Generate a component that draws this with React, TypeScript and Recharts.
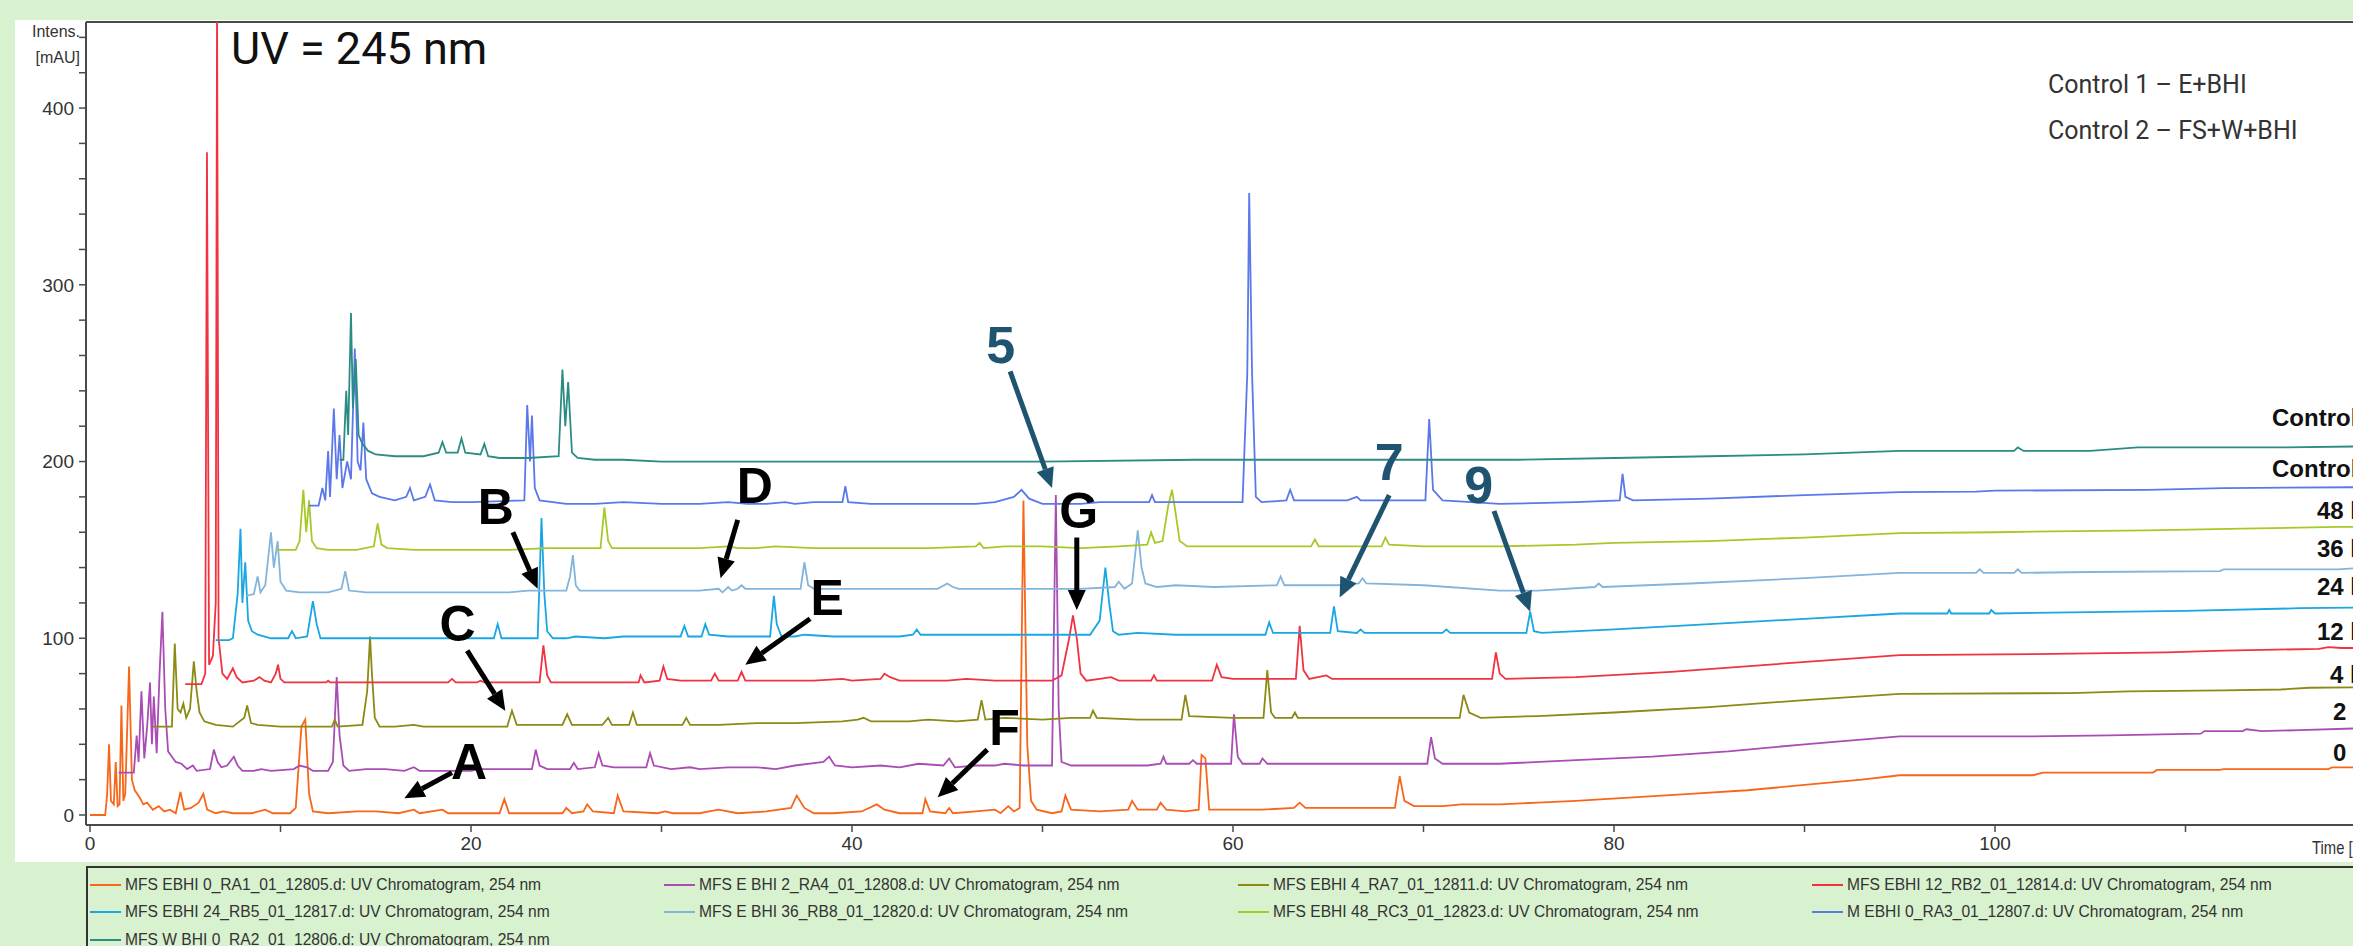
import { LineChart, Line, XAxis, YAxis, ReferenceLine, ReferenceDot } from "recharts";

type Pt = [number, number];

// retention time (min) vs intensity (mAU)
const trace0h: Pt[] = [
  [0, 0], [0.8, 0], [0.9, 12], [1.0, 40], [1.1, 8], [1.25, 6], [1.35, 30], [1.45, 5], [1.55, 6], [1.65, 62],
  [1.75, 8], [1.85, 12], [2.05, 84], [2.2, 20], [2.35, 14], [2.6, 10], [2.8, 6], [3.0, 7], [3.3, 3], [3.6, 5],
  [3.9, 2], [4.2, 3], [4.5, 1], [4.75, 13], [4.95, 3], [5.3, 4], [5.7, 7], [5.95, 12], [6.15, 3], [6.6, 1],
  [7.0, 2], [7.5, 1], [8.5, 1], [9.2, 3], [9.6, 1], [10.5, 1], [10.8, 4], [11.1, 50], [11.3, 54], [11.5, 12],
  [11.7, 2], [12.5, 1], [14.0, 2], [15.0, 2], [16.2, 1], [17.0, 3], [17.3, 1], [18.5, 3], [18.8, 1], [21.5, 1],
  [21.75, 9], [22.0, 1], [24.8, 1], [25.0, 4], [25.3, 1], [25.9, 2], [26.1, 6], [26.4, 2], [27.5, 1], [27.7, 11],
  [28.0, 2], [29.8, 1], [30.2, 2], [30.6, 1], [32.0, 1], [32.5, 2], [33.0, 3], [34.0, 1], [35.5, 2], [36.8, 4],
  [37.1, 11], [37.5, 4], [38.0, 1], [39.0, 1], [40.5, 2], [41.3, 6], [41.7, 3], [42.5, 1], [43.7, 1], [43.85, 9],
  [44.1, 2], [44.9, 1], [45.1, 4], [45.3, 1], [46.5, 2], [47.5, 3], [47.8, 1], [48.2, 5], [48.5, 2], [48.8, 4],
  [49.0, 178], [49.2, 40], [49.4, 8], [49.7, 3], [50.5, 1], [51.0, 2], [51.2, 11], [51.5, 3], [53.0, 2], [54.5, 3],
  [54.7, 8], [55.0, 3], [56.0, 3], [56.2, 7], [56.5, 3], [57.5, 2], [58.2, 3], [58.35, 34], [58.55, 32], [58.75, 3],
  [60.0, 3], [61.5, 3], [63.2, 4], [63.5, 7], [63.8, 4], [65.0, 4], [68.5, 4], [68.75, 22], [69.0, 8], [69.5, 5],
  [71.0, 5], [72.0, 6], [74.0, 6], [76.0, 7], [78.0, 8], [81.0, 10], [84.0, 12], [87.0, 14], [90.0, 17], [93.0, 20],
  [95.0, 22.5], [102.0, 22.5], [102.5, 24], [108.3, 24], [108.5, 25.5], [111.8, 25.5], [112.0, 26], [117.5, 26],
  [117.7, 27], [121, 27],
];

const trace2h: Pt[] = [
  [1.5, 24], [2.3, 24], [2.45, 45], [2.55, 30], [2.7, 70], [2.85, 32], [3.0, 50], [3.15, 75], [3.25, 40], [3.35, 67],
  [3.5, 35], [3.65, 80], [3.8, 115], [3.95, 60], [4.1, 36], [4.3, 33], [4.5, 30], [4.8, 29], [5.1, 26], [5.4, 28],
  [5.6, 25], [6.3, 26], [6.5, 37], [6.7, 30], [6.9, 27], [7.2, 28], [7.55, 33], [7.75, 28], [8.0, 25], [8.6, 25],
  [9.0, 26], [9.5, 25], [10.7, 26], [11.0, 28], [11.4, 27], [11.7, 25], [12.5, 25], [12.75, 30], [12.95, 78],
  [13.1, 45], [13.3, 28], [13.6, 25], [14.5, 26], [15.5, 26], [16.5, 25], [17.0, 27], [17.3, 25], [20.0, 25],
  [20.5, 26], [23.2, 26], [23.4, 37], [23.6, 28], [24.0, 26], [25.2, 26], [25.4, 29.5], [25.6, 26], [26.5, 27],
  [26.7, 35], [26.9, 28], [27.5, 27], [29.2, 27], [29.4, 35], [29.6, 28], [30.5, 26], [31.5, 27], [32.0, 26],
  [33.5, 27], [35.0, 27], [36.0, 26], [37.0, 28], [38.5, 30], [38.8, 33], [39.1, 28], [40.0, 27], [41.5, 28],
  [42.5, 27], [43.5, 29], [44.8, 28], [45.1, 32], [45.4, 27], [46.5, 28], [47.5, 28], [48.0, 29], [49.0, 28],
  [50.5, 28], [50.7, 181], [50.85, 60], [51.0, 30], [51.5, 28], [53.0, 28], [54.5, 28], [55.5, 28], [56.2, 29],
  [56.35, 33], [56.5, 29], [57.7, 29], [57.9, 31], [58.1, 29], [59.9, 29], [60.05, 57], [60.25, 33], [60.5, 29],
  [61.4, 29], [61.55, 32], [61.8, 29], [64.0, 29], [65.5, 29], [67.0, 29], [68.5, 29], [70.2, 29], [70.4, 44],
  [70.6, 32], [71.0, 29], [74.0, 29], [78.0, 31], [82.0, 33], [86.0, 36], [90.0, 40], [95.0, 44.5], [102.0, 44.5],
  [106.0, 45], [110.8, 46], [111.0, 47.5], [113.0, 47.5], [113.2, 48.5], [114.0, 47.5], [116.0, 48], [119.0, 49], [121, 49],
];

const trace4h: Pt[] = [
  [3.3, 50], [4.3, 50], [4.45, 97], [4.6, 60], [4.75, 58], [4.9, 63], [5.05, 55], [5.25, 60], [5.45, 87], [5.6, 70],
  [5.75, 58], [6.0, 53], [6.3, 52], [6.6, 51], [7.5, 50], [8.1, 55], [8.25, 62], [8.45, 52], [8.8, 51], [10.0, 50],
  [11.3, 50], [12.7, 50], [12.85, 54], [13.0, 50], [14.3, 51], [14.55, 70], [14.7, 101], [14.8, 80], [14.95, 55],
  [15.2, 50], [16.0, 50], [17.0, 51], [17.5, 50], [19.5, 50], [20.0, 50], [21.9, 50], [22.15, 59], [22.4, 51],
  [24.8, 51], [25.05, 57], [25.3, 51], [26.9, 51], [27.2, 55], [27.4, 51], [28.3, 51], [28.5, 58], [28.7, 51],
  [31.1, 51], [31.3, 55], [31.5, 51], [33.0, 51], [35.0, 52], [37.0, 52], [39.5, 53], [40.3, 54], [40.6, 55],
  [41.0, 53], [43.0, 53], [44.0, 54], [45.5, 53], [46.6, 54], [46.8, 65], [47.0, 54], [48.0, 55], [50.0, 54],
  [51.5, 55], [52.5, 55], [52.65, 59], [52.85, 55], [55.0, 54], [57.3, 54], [57.5, 68], [57.7, 56], [60.0, 55],
  [61.6, 55], [61.8, 82], [62.0, 58], [62.2, 55], [63.1, 55], [63.25, 58], [63.4, 55], [66.0, 55], [70.0, 55],
  [71.9, 55], [72.1, 68], [72.4, 58], [73.0, 55], [76.0, 56], [80.0, 58], [85.0, 61], [90.0, 65], [95.0, 68.5],
  [104.0, 69], [107.0, 70], [112.0, 70.5], [115.0, 71], [116.5, 72], [121, 72.5],
];

const trace12h: Pt[] = [
  [5.0, 74], [5.85, 74], [6.05, 80], [6.14, 375], [6.25, 85], [6.45, 90], [6.6, 120], [6.67, 460], [6.75, 100],
  [6.95, 80], [7.2, 77], [7.5, 83], [7.7, 78], [8.0, 75], [8.6, 76], [8.9, 78], [9.15, 76], [9.5, 75], [9.75, 80],
  [9.87, 85], [10.0, 77], [10.2, 75], [11.5, 75], [12.4, 75], [12.5, 76], [12.6, 75], [18.8, 75], [19.0, 77],
  [19.2, 75], [20.3, 75], [20.5, 76], [20.7, 75], [23.6, 75], [23.8, 96], [24.0, 79], [24.2, 75], [28.8, 75],
  [28.9, 79], [29.1, 75], [29.9, 76], [30.1, 84], [30.3, 77], [31.0, 76], [32.6, 76], [32.8, 80], [33.0, 76],
  [34.0, 76], [34.2, 81], [34.4, 76], [36.0, 76], [38.0, 76], [39.5, 77], [40.0, 76], [41.5, 77], [41.7, 80],
  [42.0, 78], [42.5, 76], [45.0, 76], [46.0, 77], [47.5, 76], [50.5, 76], [51.0, 79], [51.4, 100], [51.6, 113],
  [51.8, 100], [52.0, 80], [52.3, 76], [53.0, 77], [53.6, 78], [54.0, 76], [55.7, 76], [55.85, 79], [56.0, 76],
  [58.9, 76], [59.15, 85], [59.4, 78], [60.0, 77], [61.0, 77], [63.3, 77], [63.5, 107], [63.7, 82], [64.0, 77],
  [64.9, 79], [65.2, 77], [67.0, 77], [70.0, 77], [73.6, 77], [73.8, 92], [74.0, 80], [74.3, 77], [78.0, 78],
  [83.0, 81], [88.0, 85], [95.0, 90.5], [102.0, 91], [109.0, 92], [112.0, 93], [117.0, 94], [117.5, 95],
  [118.2, 94.5], [121, 94.5],
];

const trace24h: Pt[] = [
  [6.6, 99], [7.3, 99], [7.5, 100], [7.75, 125], [7.9, 162], [8.0, 120], [8.15, 143], [8.3, 110], [8.5, 104],
  [8.8, 102], [9.5, 100], [10.4, 100], [10.6, 104], [10.8, 100], [11.4, 101], [11.7, 121], [11.9, 108], [12.1, 100],
  [13.0, 100], [17.0, 100], [19.0, 100], [21.2, 100], [21.4, 108], [21.6, 100], [23.5, 100], [23.7, 168],
  [23.85, 125], [24.0, 104], [24.3, 100], [25.0, 100], [25.5, 101], [27.0, 100], [28.0, 101], [29.5, 101],
  [31.0, 101], [31.2, 107], [31.4, 101], [32.1, 101], [32.3, 108], [32.5, 102], [33.5, 101], [35.7, 101],
  [35.9, 124], [36.05, 108], [36.3, 101], [37.0, 101], [37.5, 102], [39.0, 101], [40.0, 101], [41.5, 101],
  [42.5, 101], [43.2, 102], [43.4, 105], [43.6, 102], [45.0, 102], [48.0, 102], [50.0, 102], [52.5, 102],
  [53.0, 110], [53.3, 140], [53.5, 120], [53.7, 104], [54.0, 102], [55.0, 103], [57.0, 102], [58.5, 102],
  [61.7, 102], [61.9, 109], [62.1, 103], [63.0, 103], [65.1, 103], [65.3, 118], [65.5, 104], [66.5, 103],
  [66.7, 105], [66.9, 103], [69.0, 103], [71.0, 103], [71.2, 105], [71.4, 103], [73.0, 103], [75.4, 103],
  [75.6, 115], [75.8, 104], [76.2, 103], [80.0, 105], [85.0, 108], [90.0, 111], [95.0, 114], [97.5, 114],
  [97.6, 116], [97.7, 114], [99.7, 114], [99.8, 116], [100.0, 114], [103.0, 114.5], [110.0, 115.5], [116.0, 117],
  [121, 117.7],
];

const trace36h: Pt[] = [
  [8.2, 124], [8.6, 125], [8.8, 135], [8.95, 126], [9.2, 130], [9.5, 160], [9.65, 140], [9.85, 155], [10.0, 132],
  [10.3, 127], [11.0, 126], [12.5, 126], [13.2, 128], [13.4, 138], [13.6, 127], [14.5, 126], [18.0, 126],
  [22.0, 126], [23.0, 127], [25.0, 127], [25.2, 135], [25.35, 147], [25.5, 130], [25.7, 127], [27.5, 127],
  [30.0, 127], [32.0, 127], [33.0, 128], [33.2, 126], [33.5, 129], [33.7, 127], [34.0, 128], [34.2, 130],
  [34.4, 128], [36.0, 128], [37.3, 128], [37.5, 143], [37.7, 130], [38.0, 128], [40.0, 128], [42.0, 128],
  [44.5, 128], [45.0, 131], [45.3, 129], [45.6, 128], [48.0, 128], [50.0, 128], [52.0, 128], [53.8, 129],
  [54.0, 132], [54.3, 128], [54.7, 131], [55.0, 161], [55.2, 140], [55.4, 131], [56.0, 129], [57.0, 130],
  [59.0, 129], [62.3, 130], [62.5, 135], [62.7, 130], [64.0, 130], [65.5, 130], [66.6, 131], [66.8, 134],
  [67.0, 131], [70.0, 130], [74.0, 127], [76.0, 127], [79.0, 129], [79.2, 131], [79.4, 129], [84.0, 131],
  [90.0, 134], [95.0, 137], [99.0, 137], [99.2, 139], [99.4, 137], [101.0, 137], [101.2, 139], [101.4, 137],
  [105.0, 137.5], [111.8, 138], [112.0, 139], [118.0, 139], [119.0, 139.7], [121, 139.7],
];

const trace48h: Pt[] = [
  [9.8, 150], [10.8, 150], [11.0, 155], [11.2, 184], [11.35, 160], [11.5, 178], [11.65, 155], [11.9, 151],
  [12.5, 150], [14.0, 150], [14.9, 152], [15.1, 165], [15.3, 153], [15.6, 151], [17.0, 150], [20.0, 150],
  [22.0, 150], [24.0, 151], [25.0, 151], [26.8, 151], [27.0, 174], [27.2, 155], [27.4, 151], [29.0, 151],
  [30.5, 151], [32.0, 151], [33.5, 152], [34.0, 151], [35.0, 151], [36.0, 152], [38.0, 151], [40.0, 151],
  [42.0, 151], [44.0, 151], [46.5, 152], [46.7, 154], [46.9, 151], [48.0, 152], [50.0, 152], [52.0, 151],
  [54.0, 152], [55.5, 153], [55.7, 160], [55.9, 154], [56.3, 155], [56.6, 175], [56.8, 184], [57.0, 170],
  [57.2, 155], [57.6, 152], [58.5, 152], [60.0, 152], [62.0, 152], [64.1, 152], [64.3, 156], [64.5, 152],
  [67.8, 152], [68.0, 157], [68.2, 153], [70.0, 152], [72.0, 152], [74.0, 152], [78.0, 153], [80.0, 154],
  [85.0, 155], [90.0, 157], [95.0, 159.5], [100.0, 160], [103.0, 160.5], [108.0, 161], [113.0, 162],
  [118.0, 163], [121, 163],
];

const traceCtrl1: Pt[] = [
  [11.5, 175], [12.0, 175], [12.2, 185], [12.35, 178], [12.5, 206], [12.6, 180], [12.8, 230], [12.95, 190],
  [13.1, 215], [13.25, 185], [13.5, 200], [13.7, 190], [13.9, 264], [14.05, 200], [14.2, 195], [14.35, 222],
  [14.5, 190], [14.8, 182], [15.2, 180], [16.0, 178], [16.6, 180], [16.8, 185], [17.0, 178], [17.6, 180],
  [17.85, 187], [18.1, 178], [19.0, 177], [20.0, 177], [22.8, 178], [22.95, 232], [23.1, 200], [23.2, 226],
  [23.35, 185], [23.6, 178], [25.0, 176], [26.5, 176], [28.0, 177], [30.0, 176], [32.0, 176], [33.5, 177],
  [34.5, 176], [35.5, 176], [36.5, 177], [37.0, 176], [38.0, 177], [39.5, 177], [39.65, 186], [39.8, 177],
  [41.0, 176], [42.5, 176], [45.0, 176], [46.5, 176], [47.5, 177], [48.5, 180], [48.9, 184], [49.3, 179],
  [50.0, 176], [52.0, 176], [53.0, 177], [55.6, 177], [55.75, 181], [55.9, 177], [58.0, 177], [60.5, 177],
  [60.75, 250], [60.85, 352], [61.0, 250], [61.2, 180], [61.5, 177], [62.8, 178], [63.0, 184], [63.2, 178],
  [66.0, 178], [66.5, 180], [66.7, 178], [70.1, 178], [70.3, 224], [70.5, 184], [71.0, 178], [74.0, 176],
  [78.0, 177], [80.3, 178], [80.45, 193], [80.6, 180], [81.0, 178], [85.0, 179], [90.0, 181], [95.0, 182.7],
  [99.0, 183], [100.0, 183.5], [108.0, 184], [112.0, 185], [121, 185.6],
];

const traceCtrl2: Pt[] = [
  [13.1, 201], [13.3, 201], [13.45, 240], [13.55, 215], [13.7, 284], [13.8, 230], [13.95, 258], [14.1, 215],
  [14.3, 210], [14.6, 206], [15.0, 204], [16.0, 203], [17.5, 203], [18.3, 205], [18.5, 211], [18.7, 205],
  [19.3, 205], [19.5, 213], [19.7, 205], [20.5, 204], [20.7, 210], [20.9, 203], [21.5, 202], [23.0, 202],
  [24.6, 203], [24.8, 252], [24.95, 220], [25.1, 245], [25.3, 205], [25.6, 202], [26.5, 201], [28.0, 201],
  [30.0, 200], [40.0, 200], [50.0, 200], [58.0, 201], [65.0, 201], [75.0, 201], [80.0, 202], [85.0, 203],
  [90.0, 204], [95.0, 206], [101.0, 206], [101.2, 208], [101.5, 206], [105.0, 206], [107.5, 208], [115.0, 208],
  [121, 208.8],
];

const series = [
  { name: "MFS EBHI 0_RA1_01_12805.d: UV Chromatogram, 254 nm", tag: "0 h", color: "#f8661a", points: trace0h },
  { name: "MFS E BHI 2_RA4_01_12808.d: UV Chromatogram, 254 nm", tag: "2 h", color: "#a94db5", points: trace2h },
  { name: "MFS EBHI 4_RA7_01_12811.d: UV Chromatogram, 254 nm", tag: "4 h", color: "#8b8a15", points: trace4h },
  { name: "MFS EBHI 12_RB2_01_12814.d: UV Chromatogram, 254 nm", tag: "12 h", color: "#ef3340", points: trace12h },
  { name: "MFS EBHI 24_RB5_01_12817.d: UV Chromatogram, 254 nm", tag: "24 h", color: "#19a6e3", points: trace24h },
  { name: "MFS E BHI 36_RB8_01_12820.d: UV Chromatogram, 254 nm", tag: "36 h", color: "#82b4dc", points: trace36h },
  { name: "MFS EBHI 48_RC3_01_12823.d: UV Chromatogram, 254 nm", tag: "48 h", color: "#a7c928", points: trace48h },
  { name: "M EBHI 0_RA3_01_12807.d: UV Chromatogram, 254 nm", tag: "Control 1", color: "#5a78ea", points: traceCtrl1 },
  { name: "MFS W BHI 0_RA2_01_12806.d: UV Chromatogram, 254 nm", tag: "Control 2", color: "#2b8c83", points: traceCtrl2 },
];

// label, text centre, arrow tail, arrow tip (time, mAU)
const annotations: { label: string; at: Pt; from: Pt; to: Pt }[] = [
  { label: "A", at: [19.9, 30], from: [19.0, 24], to: [16.5, 9.5] },
  { label: "B", at: [21.3, 174], from: [22.2, 160], to: [23.5, 128] },
  { label: "C", at: [19.3, 108], from: [19.8, 93], to: [21.8, 59] },
  { label: "D", at: [34.9, 186], from: [34.0, 167], to: [33.1, 134] },
  { label: "E", at: [38.7, 123], from: [37.8, 111], to: [34.4, 85] },
  { label: "F", at: [48.0, 49], from: [47.1, 37], to: [44.5, 10] },
  { label: "G", at: [51.9, 172], from: [51.8, 157], to: [51.8, 116] },
  { label: "5", at: [47.8, 266], from: [48.3, 251], to: [50.5, 185] },
  { label: "7", at: [68.2, 200], from: [68.2, 181], to: [65.6, 123] },
  { label: "9", at: [72.9, 187], from: [73.7, 172], to: [75.6, 115] },
];

const xTicks = [0, 10, 20, 30, 40, 50, 60, 70, 80, 90, 100, 110];
const yTicks = [0, 20, 40, 60, 80, 100, 120, 140, 160, 180, 200, 220, 240, 260, 280, 300, 320, 340, 360, 380, 400, 420, 440];

const X_DOMAIN: [number, number] = [-0.21, 120];
const Y_DOMAIN: [number, number] = [-5.66, 448.7];
const tagTops = [739, 698, 661, 618, 573, 535, 497, 455, 404];
const tagLefts = [2333, 2333, 2330, 2317, 2317, 2317, 2317, 2272, 2272];

const narrow = "'Liberation Sans Narrow', 'Arial Narrow', 'Liberation Sans', Arial, sans-serif";
const bold = "'Liberation Sans', Arial, sans-serif";

function Arrow(props: any) {
  const { x1, y1, x2, y2, color } = props;
  const dx = x2 - x1;
  const dy = y2 - y1;
  const len = Math.sqrt(dx * dx + dy * dy) || 1;
  const ux = dx / len;
  const uy = dy / len;
  const head = 20;
  const half = 9;
  const bx = x2 - ux * head;
  const by = y2 - uy * head;
  return (
    <g>
      <line x1={x1} y1={y1} x2={bx} y2={by} stroke={color} strokeWidth={5} />
      <polygon
        points={`${x2},${y2} ${bx - uy * half},${by + ux * half} ${bx + uy * half},${by - ux * half}`}
        fill={color}
      />
    </g>
  );
}

export default function App() {
  return (
    <div
      style={{
        position: "fixed",
        left: 0,
        top: 0,
        width: 2353,
        height: 946,
        overflow: "hidden",
        background: "#d8f1cf",
      }}
    >
      <div style={{ position: "absolute", left: 15, top: 20, width: 2400, height: 842, background: "#fff" }} />
      <div style={{ position: "absolute", left: 0, top: 0 }}>
        <LineChart width={2376} height={870} margin={{ top: 22, right: 0, bottom: 5, left: 16 }}>
          <XAxis
            type="number"
            dataKey="t"
            domain={X_DOMAIN}
            allowDataOverflow
            ticks={xTicks}
            tickFormatter={(v: number) => (v % 20 === 0 ? String(v) : "")}
            height={40}
            tickSize={7}
            tickMargin={5}
            axisLine={{ stroke: "#4a4a4a", strokeWidth: 2 }}
            tickLine={{ stroke: "#4a4a4a", strokeWidth: 1.5 }}
            tick={{ fill: "#333", fontSize: 19, fontFamily: narrow }}
          />
          <YAxis
            type="number"
            domain={Y_DOMAIN}
            allowDataOverflow
            ticks={yTicks}
            tickFormatter={(v: number) => (v % 100 === 0 ? String(v) : "")}
            width={70}
            tickSize={7}
            tickMargin={5}
            axisLine={{ stroke: "#4a4a4a", strokeWidth: 2 }}
            tickLine={{ stroke: "#4a4a4a", strokeWidth: 1.5 }}
            tick={{ fill: "#333", fontSize: 19, fontFamily: narrow }}
          />
          <ReferenceLine y={Y_DOMAIN[1]} stroke="#4a4a4a" strokeWidth={2} />
          {series.map((s) => (
            <Line
              key={s.name}
              data={s.points.map(([t, v]) => ({ t, v }))}
              dataKey="v"
              type="linear"
              stroke={s.color}
              strokeWidth={1.8}
              dot={false}
              activeDot={false}
              isAnimationActive={false}
            />
          ))}
          {annotations.map((a) => {
            const color = /\d/.test(a.label) ? "#1f5470" : "#000";
            return (
              <ReferenceLine
                key={"arr" + a.label}
                segment={[
                  { x: a.from[0], y: a.from[1] },
                  { x: a.to[0], y: a.to[1] },
                ]}
                ifOverflow="visible"
                shape={(p: any) => <Arrow {...p} color={color} />}
              />
            );
          })}
          {annotations.map((a) => {
            const isNum = /\d/.test(a.label);
            return (
              <ReferenceDot
                key={"lbl" + a.label}
                x={a.at[0]}
                y={a.at[1]}
                r={0}
                ifOverflow="visible"
                shape={(p: any) => (
                  <text
                    x={p.cx}
                    y={p.cy}
                    textAnchor="middle"
                    dominantBaseline="central"
                    fill={isNum ? "#1f5470" : "#000"}
                    fontSize={isNum ? 52 : 50}
                    fontWeight={900}
                    fontFamily={bold}
                  >
                    {a.label}
                  </text>
                )}
              />
            );
          })}
        </LineChart>
      </div>

      <div style={{ position: "absolute", left: 30, top: 19, width: 50, textAlign: "right", fontFamily: narrow, fontSize: 16, color: "#333", lineHeight: "26px" }}>
        Intens.
        <br />
        [mAU]
      </div>
      <div
        style={{
          position: "absolute",
          left: 2312,
          top: 837,
          fontFamily: narrow,
          fontSize: 19,
          color: "#333",
          whiteSpace: "nowrap",
          transform: "scaleX(0.78)",
          transformOrigin: "left top",
        }}
      >
        Time [min]
      </div>
      <div style={{ position: "absolute", left: 231, top: 22, fontFamily: "Roboto, sans-serif", fontSize: 45, color: "#111", whiteSpace: "nowrap" }}>
        UV = 245 nm
      </div>
      <div style={{ position: "absolute", left: 2048, top: 62, fontFamily: "Roboto, sans-serif", fontSize: 25, color: "#333", whiteSpace: "nowrap", lineHeight: "46px" }}>
        Control 1 – E+BHI
        <br />
        Control 2 – FS+W+BHI
      </div>
      {series.map((s, i) => (
        <div
          key={"tag" + s.tag}
          style={{ position: "absolute", left: tagLefts[i], top: tagTops[i], fontFamily: bold, fontWeight: 700, fontSize: 24, color: "#111", whiteSpace: "nowrap" }}
        >
          {s.tag}
        </div>
      ))}

      <div
        style={{
          position: "absolute",
          left: 86,
          top: 866,
          width: 2400,
          height: 100,
          borderTop: "2px solid #333",
          borderLeft: "2px solid #333",
          display: "grid",
          gridTemplateColumns: "574px 574px 574px 574px",
          gridAutoRows: "27.5px",
          paddingTop: 3,
          boxSizing: "border-box",
        }}
      >
        {series.map((s) => (
          <div key={"lg" + s.name} style={{ display: "flex", alignItems: "center", fontFamily: narrow, fontSize: 15.6, color: "#333", whiteSpace: "nowrap" }}>
            <span style={{ display: "inline-block", width: 31, height: 2, background: s.color, marginLeft: 2, marginRight: 4 }} />
            {s.name}
          </div>
        ))}
      </div>
    </div>
  );
}
